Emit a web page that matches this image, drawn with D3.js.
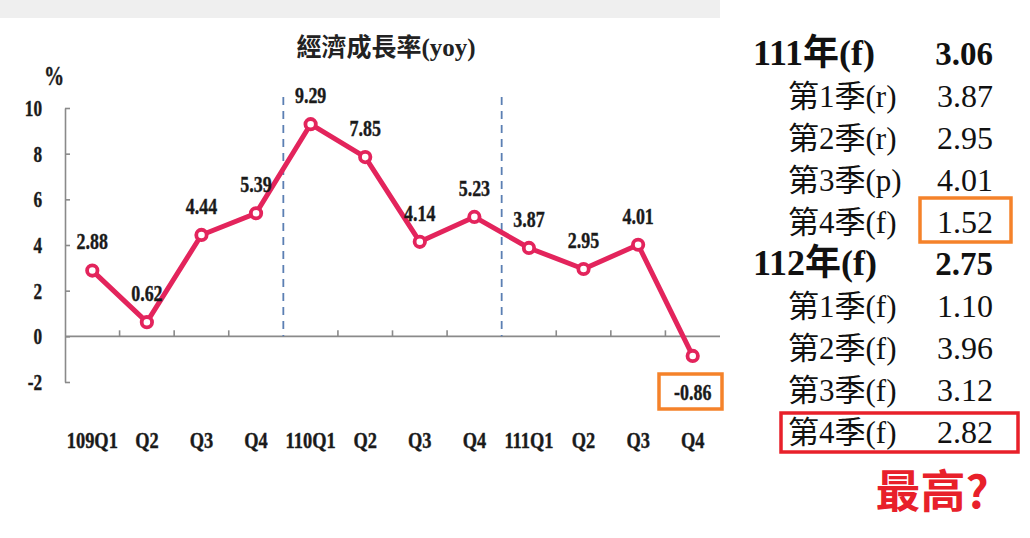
<!DOCTYPE html>
<html>
<head>
<meta charset="utf-8">
<script src="https://cdn.jsdelivr.net/npm/d3@7"></script>
<style>
  body { margin: 0; background: #fff; }
  svg { display: block; }
</style>
</head>
<body>
<svg id="chart" width="1030" height="538"></svg>
<script>
// quarter keys (unique) and what is printed under the axis
const quarters = ["109Q1", "109Q2", "109Q3", "109Q4", "110Q1", "110Q2", "110Q3", "110Q4", "111Q1", "111Q2", "111Q3", "111Q4"];
const tickLabels = ["109Q1", "Q2", "Q3", "Q4", "110Q1", "Q2", "Q3", "Q4", "111Q1", "Q2", "Q3", "Q4"];
const growth = [2.88, 0.62, 4.44, 5.39, 9.29, 7.85, 4.14, 5.23, 3.87, 2.95, 4.01, -0.86];
const yTicks = [-2, 0, 2, 4, 6, 8, 10];
const yearStarts = ["110Q1", "111Q1"];

// forecast table on the right
const tableLabels = ["111年(f)", "第1季(r)", "第2季(r)", "第3季(p)", "第4季(f)", "112年(f)", "第1季(f)", "第2季(f)", "第3季(f)", "第4季(f)"];
const tableValues = ["3.06", "3.87", "2.95", "4.01", "1.52", "2.75", "1.10", "3.96", "3.12", "2.82"];
const tableIsYear = [true, false, false, false, false, true, false, false, false, false];

const serif = "'Liberation Serif', 'Times New Roman', 'Noto Sans CJK TC', serif";
const lineColor = "#e3245c";
const axisColor = "#8a8a8a";

const svg = d3.select("#chart");

// the chart text in the picture is narrow and tall, so squeeze it a bit
function condensed(sel, size, sx) {
  return sel
    .attr("text-anchor", "middle")
    .attr("dominant-baseline", "central")
    .style("font-family", serif)
    .style("font-weight", "bold")
    .style("font-size", size + "px")
    .attr("fill", "#1a1a1a")
    .attr("stroke", "#1a1a1a")
    .attr("stroke-width", 0.4)
    .attr("transform", function () {
      const t = d3.select(this);
      return `translate(${t.attr("x")},${t.attr("y")}) scale(${sx},1)`;
    })
    .attr("x", 0).attr("y", 0);
}

// grey strip on top
svg.append("rect")
  .attr("x", 0).attr("y", 0)
  .attr("width", 720).attr("height", 18)
  .attr("fill", "#efefef");

const x = d3.scaleBand()
  .domain(quarters)
  .range([65, 720]);

const y = d3.scaleLinear()
  .domain([-2, 10])
  .range([382, 108]);

const cx = q => x(q) + x.bandwidth() / 2;

// title
svg.append("text")
  .attr("x", 386).attr("y", 47)
  .attr("text-anchor", "middle")
  .attr("dominant-baseline", "central")
  .style("font-family", serif)
  .style("font-weight", "bold")
  .style("font-size", "25px")
  .attr("fill", "#222")
  .text("經濟成長率(yoy)");

// unit
svg.append("text")
  .attr("x", 54).attr("y", 75)
  .call(condensed, 28, 0.72)
  .text("%");

// y axis, ticks pointing inward
const yAxis = svg.append("g")
  .attr("transform", "translate(65,0)")
  .call(d3.axisRight(y).tickValues(yTicks).tickSize(5).tickSizeOuter(0).tickFormat(""));
yAxis.select(".domain").attr("stroke", axisColor).attr("stroke-width", 1.6);
yAxis.selectAll(".tick line").attr("stroke", axisColor).attr("stroke-width", 1.6);

svg.append("g")
  .selectAll("text")
  .data(yTicks)
  .join("text")
  .attr("x", 42)
  .attr("y", d => y(d))
  .call(condensed, 23, 0.75)
  .attr("text-anchor", "end")
  .text(d => d);

// x axis line at zero with small upward ticks on band boundaries
svg.append("line")
  .attr("x1", 65).attr("x2", 720)
  .attr("y1", y(0)).attr("y2", y(0))
  .attr("stroke", axisColor).attr("stroke-width", 1.8);

svg.append("g")
  .selectAll("line")
  .data(quarters.slice(1).filter(q => !yearStarts.includes(q)))
  .join("line")
  .attr("x1", d => x(d)).attr("x2", d => x(d))
  .attr("y1", y(0)).attr("y2", y(0) - 6)
  .attr("stroke", axisColor).attr("stroke-width", 1.6);

// dashed year separators
svg.append("g")
  .selectAll("line")
  .data(yearStarts)
  .join("line")
  .attr("x1", d => x(d)).attr("x2", d => x(d))
  .attr("y1", 97).attr("y2", y(0))
  .attr("stroke", "#5b7fb3")
  .attr("stroke-width", 1.8)
  .attr("stroke-dasharray", "8,6");

// x tick labels
svg.append("g")
  .selectAll("text")
  .data(quarters)
  .join("text")
  .attr("x", d => cx(d))
  .attr("y", 440)
  .call(condensed, 23, 0.8)
  .text((d, i) => tickLabels[i]);

// line
const line = d3.line()
  .x((d, i) => cx(quarters[i]))
  .y(d => y(d));

svg.append("path")
  .datum(growth)
  .attr("d", line)
  .attr("fill", "none")
  .attr("stroke", lineColor)
  .attr("stroke-width", 5)
  .attr("stroke-linejoin", "round");

svg.append("g")
  .selectAll("circle")
  .data(growth)
  .join("circle")
  .attr("cx", (d, i) => cx(quarters[i]))
  .attr("cy", d => y(d))
  .attr("r", 5.2)
  .attr("fill", "#fff")
  .attr("stroke", lineColor)
  .attr("stroke-width", 3.8);

// value labels
svg.append("g")
  .selectAll("text")
  .data(growth)
  .join("text")
  .attr("x", (d, i) => cx(quarters[i]))
  .attr("y", d => d < 0 ? y(d) + 36 : y(d) - 29)
  .call(condensed, 23, 0.78)
  .text(d => d.toFixed(2));

// orange box around the negative value
svg.append("rect")
  .attr("x", 659).attr("y", 374)
  .attr("width", 63).attr("height", 35)
  .attr("fill", "none")
  .attr("stroke", "#f5822a")
  .attr("stroke-width", 3.5);

// right-hand table
const rowY = i => 65 + i * 42;

const table = svg.append("g");
table.selectAll("text.label")
  .data(tableLabels)
  .join("text")
  .attr("class", "label")
  .attr("x", (d, i) => tableIsYear[i] ? 753 : 788)
  .attr("y", (d, i) => rowY(i))
  .style("font-family", serif)
  .style("font-weight", (d, i) => tableIsYear[i] ? "bold" : "normal")
  .style("font-size", (d, i) => tableIsYear[i] ? "36px" : "31px")
  .attr("fill", "#111")
  .text(d => d);

table.selectAll("text.value")
  .data(tableValues)
  .join("text")
  .attr("class", "value")
  .attr("x", 993)
  .attr("y", (d, i) => rowY(i))
  .attr("text-anchor", "end")
  .style("font-family", serif)
  .style("font-weight", (d, i) => tableIsYear[i] ? "bold" : "normal")
  .style("font-size", (d, i) => tableIsYear[i] ? "33px" : "32px")
  .attr("fill", "#111")
  .text(d => d);

// highlight boxes
svg.append("rect")
  .attr("x", 920).attr("y", 198)
  .attr("width", 91).attr("height", 44)
  .attr("fill", "none")
  .attr("stroke", "#f5822a")
  .attr("stroke-width", 3.5);

svg.append("rect")
  .attr("x", 781).attr("y", 413)
  .attr("width", 237).attr("height", 39)
  .attr("fill", "none")
  .attr("stroke", "#e8202a")
  .attr("stroke-width", 3.5);

svg.append("text")
  .attr("x", 932).attr("y", 488)
  .attr("text-anchor", "middle")
  .attr("dominant-baseline", "central")
  .style("font-family", "'Noto Sans CJK TC', 'Noto Sans', sans-serif")
  .style("font-weight", "bold")
  .style("font-size", "45px")
  .attr("fill", "#e8202a")
  .text("最高?");
</script>
</body>
</html>
